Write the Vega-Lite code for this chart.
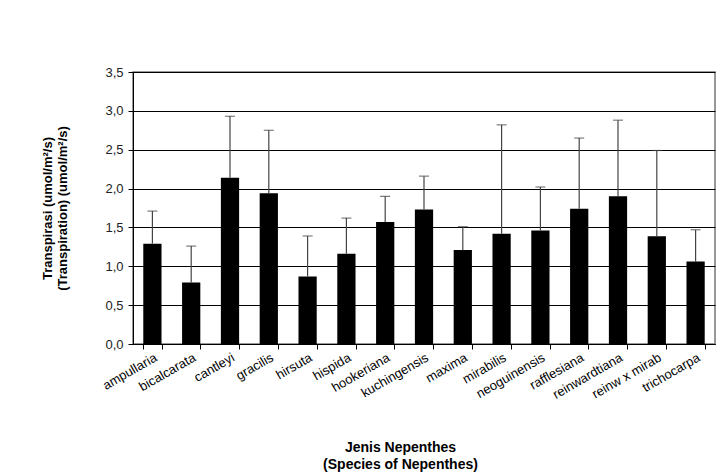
{
  "$schema": "https://vega.github.io/schema/vega-lite/v6.json",
  "autosize": {"type": "none"},
  "width": 582,
  "height": 272,
  "padding": {"left": 133, "top": 72, "right": 11, "bottom": 128},
  "background": "white",
  "config": {
    "font": "Liberation Sans",
    "view": {"stroke": "#777", "strokeWidth": 1.5}
  },
  "data": {
    "values": [
      {"species": "ampullaria", "mean": 1.29, "upper": 1.71},
      {"species": "bicalcarata", "mean": 0.79, "upper": 1.26},
      {"species": "cantleyi", "mean": 2.14, "upper": 2.93},
      {"species": "gracilis", "mean": 1.94, "upper": 2.75},
      {"species": "hirsuta", "mean": 0.87, "upper": 1.39},
      {"species": "hispida", "mean": 1.16, "upper": 1.62},
      {"species": "hookeriana", "mean": 1.57, "upper": 1.90},
      {"species": "kuchingensis", "mean": 1.73, "upper": 2.16},
      {"species": "maxima", "mean": 1.21, "upper": 1.51},
      {"species": "mirabilis", "mean": 1.42, "upper": 2.82},
      {"species": "neoguinensis", "mean": 1.46, "upper": 2.02},
      {"species": "rafflesiana", "mean": 1.74, "upper": 2.65},
      {"species": "reinwardtiana", "mean": 1.90, "upper": 2.88},
      {"species": "reinw x mirab", "mean": 1.385, "upper": 2.49},
      {"species": "trichocarpa", "mean": 1.06, "upper": 1.47}
    ]
  },
  "encoding": {
    "x": {
      "field": "species",
      "type": "nominal",
      "sort": null,
      "scale": {"paddingInner": 0.53, "paddingOuter": 0.265},
      "axis": {
        "title": ["Jenis Nepenthes", "(Species of Nepenthes)"],
        "titleFont": "Liberation Sans",
        "titleFontSize": 14,
        "titleFontWeight": "bold",
        "titleColor": "black",
        "titlePadding": 39,
        "titleLineHeight": 17,
        "titleX": 267,
        "labelAngle": -30,
        "labelAlign": "right",
        "labelBaseline": "top",
        "labelFontSize": 13,
        "labelColor": "black",
        "labelPadding": 2,
        "labelOverlap": false,
        "tickBand": "extent",
        "tickColor": "black",
        "tickSize": 5,
        "domainColor": "black",
        "grid": false
      }
    },
    "y": {
      "field": "mean",
      "type": "quantitative",
      "scale": {"domain": [0, 3.5], "nice": false},
      "axis": {
        "values": [0, 0.5, 1, 1.5, 2, 2.5, 3, 3.5],
        "labelOverlap": false,
        "labelExpr": "replace(format(datum.value, '.1f'), '.', ',')",
        "labelFontSize": 13,
        "labelColor": "#222",
        "labelPadding": 5,
        "title": ["Transpirasi (umol/m²/s)", "(Transpiration) (umol/m²/s)"],
        "titleFont": "Liberation Sans",
        "titleFontSize": 13,
        "titleFontWeight": "bold",
        "titleColor": "black",
        "titlePadding": 35,
        "titleLineHeight": 15,
        "grid": true,
        "gridColor": "black",
        "gridWidth": 1,
        "tickColor": "black",
        "tickSize": 5,
        "domainColor": "black"
      }
    }
  },
  "layer": [
    {
      "mark": {"type": "bar", "color": "black"}
    },
    {
      "mark": {"type": "rule", "color": "#444", "strokeWidth": 1.2},
      "encoding": {
        "y2": {"field": "upper"}
      }
    },
    {
      "mark": {"type": "tick", "color": "#444", "size": 10, "thickness": 1.2, "orient": "horizontal"},
      "encoding": {
        "y": {
          "field": "upper",
          "type": "quantitative",
          "scale": {"domain": [0, 3.5], "nice": false},
          "axis": {
            "values": [0, 0.5, 1, 1.5, 2, 2.5, 3, 3.5],
            "labelOverlap": false,
            "labelExpr": "replace(format(datum.value, '.1f'), '.', ',')",
            "labelFontSize": 13,
            "labelColor": "#222",
            "labelPadding": 5,
            "title": ["Transpirasi (umol/m²/s)", "(Transpiration) (umol/m²/s)"],
            "titleFont": "Liberation Sans",
            "titleFontSize": 13,
            "titleFontWeight": "bold",
            "titleColor": "black",
            "titlePadding": 35,
            "titleLineHeight": 15,
            "grid": true,
            "gridColor": "black",
            "gridWidth": 1,
            "tickColor": "black",
            "tickSize": 5,
            "domainColor": "black"
          }
        }
      }
    }
  ]
}
